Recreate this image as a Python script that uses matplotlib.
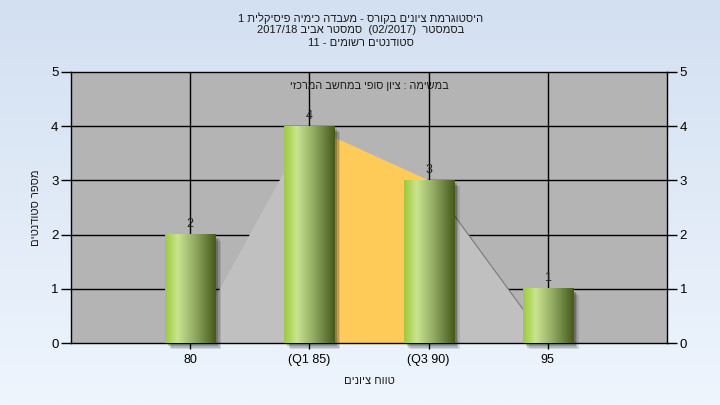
import re
import numpy as np
import matplotlib
matplotlib.use('Agg')
import matplotlib.pyplot as plt
from matplotlib.patches import Rectangle, Polygon
from matplotlib.colors import LinearSegmentedColormap

# ---------------- data ----------------
categories = ['80', '(Q1 85)', '(Q3 90)', '95']
counts = [2, 4, 3, 1]
area_values = [0, 4, 3, 0]
y_ticks = [0, 1, 2, 3, 4, 5]
title_lines = [
    "היסטוגרמת ציונים בקורס - מעבדה כימיה פיסיקלית 1",
    "בסמסטר  (02/2017)  סמסטר אביב 2017/18",
    "סטודנטים רשומים - 11",
]
subtitle = "במשימה : ציון סופי במחשב המרכזי"
xlabel = "טווח ציונים"
ylabel = "מספר סטודנטים"

plt.rcParams['font.family'] = ['Liberation Sans', 'DejaVu Sans']


def visual(s):
    """Right-to-left display order: reverse the line, keep number/Latin runs LTR,
    mirror brackets."""
    tokens = re.findall(r'[0-9A-Za-z]+(?:[/.][0-9A-Za-z]+)*|.', s)
    out = ''.join(tokens[::-1])
    return out.translate(str.maketrans({'(': ')', ')': '('}))


W, H = 720, 405
fig = plt.figure(figsize=(W / 100, H / 100), dpi=100)

# background gradient
bg = fig.add_axes([0, 0, 1, 1], zorder=-10)
bg_cmap = LinearSegmentedColormap.from_list('bg', ['#d3e0f1', '#eef5fd'])
bg.imshow(np.linspace(0, 1, 256).reshape(-1, 1), aspect='auto', cmap=bg_cmap,
          extent=[0, 1, 0, 1], origin='upper')
bg.set_axis_off()

left_px, right_px, top_px, bot_px = 71, 667, 72, 343
ax = fig.add_axes([left_px / W, 1 - bot_px / H, (right_px - left_px) / W,
                   (bot_px - top_px) / H])
ax.set_facecolor('#b4b4b4')

xs = np.arange(1, len(categories) + 1)
ax.set_xlim(0, len(categories) + 1)
ax.set_ylim(0, 5)

# grid
for x in xs:
    ax.axvline(x, color='black', lw=1.0, zorder=1)
for y in y_ticks[1:-1]:
    ax.axhline(y, color='black', lw=1.0, zorder=1)

# area (quartile shape)
ax.add_patch(Polygon(list(zip(xs, area_values)), closed=True,
                     facecolor='#c0c0c0', edgecolor='none', zorder=2))
ax.add_patch(Polygon([(xs[1], 0), (xs[1], area_values[1]),
                      (xs[2], area_values[2]), (xs[2], 0)], closed=True,
                     facecolor='#fecb58', edgecolor='none', zorder=2.1))
ax.plot([xs[2], xs[3]], [area_values[2], area_values[3]], color='#7a7a7a',
        lw=0.8, zorder=2.2)

# bars with gradient
bar_w = 0.42
bar_cmap = LinearSegmentedColormap.from_list(
    'bar', [(0, '#9dcb3c'), (0.25, '#c9e48f'), (0.6, '#8fa860'), (1, '#45591b')])
grad = np.linspace(0, 1, 256).reshape(1, -1)
px_x = 1 / 119.2
px_y = 5 / 271
for x, c in zip(xs, counts):
    # soft shadow
    for k, a in [(6, 0.10), (4.5, 0.15), (3, 0.20)]:
        ax.add_patch(Rectangle((x - bar_w / 2 + k * px_x, -k * px_y), bar_w,
                               c, facecolor='black', alpha=a,
                               edgecolor='none', zorder=3, clip_on=False))
    ax.imshow(grad, aspect='auto', cmap=bar_cmap,
              extent=[x - bar_w / 2, x + bar_w / 2, 0, c], zorder=4)
    ax.text(x, c + 0.08, str(c), ha='center', va='bottom', fontsize=9,
            color='#222222', zorder=5)

ax.set_xlim(0, len(categories) + 1)
ax.set_ylim(0, 5)

ax.set_xticks(xs)
ax.set_xticklabels(categories, fontsize=9)
ax.set_yticks(y_ticks)
ax.set_yticklabels([str(v) for v in y_ticks], fontsize=9.5)
ax.tick_params(axis='y', length=7, width=1, pad=2, colors='black',
               right=True, labelright=True)
ax.tick_params(axis='x', length=4, width=1, pad=4, colors='black')
for sp in ax.spines.values():
    sp.set_color('black')
    sp.set_linewidth(1.0)

ax.text(0.5, 0.948, visual(subtitle), transform=ax.transAxes, ha='center',
        va='center', fontsize=7.8, color='#1a1a1a', zorder=6)

ax.set_xlabel(visual(xlabel), fontsize=8, labelpad=7, color='#1a1a1a')
ax.set_ylabel(visual(ylabel), fontsize=8, labelpad=7, color='#1a1a1a')

for i, (line, ypx) in enumerate(zip(title_lines, [18, 30, 43])):
    fig.text(0.501, 1 - ypx / H, visual(line), ha='center', va='center',
             fontsize=8, color='#1a1a1a')

fig.savefig('out.png', dpi=100)
